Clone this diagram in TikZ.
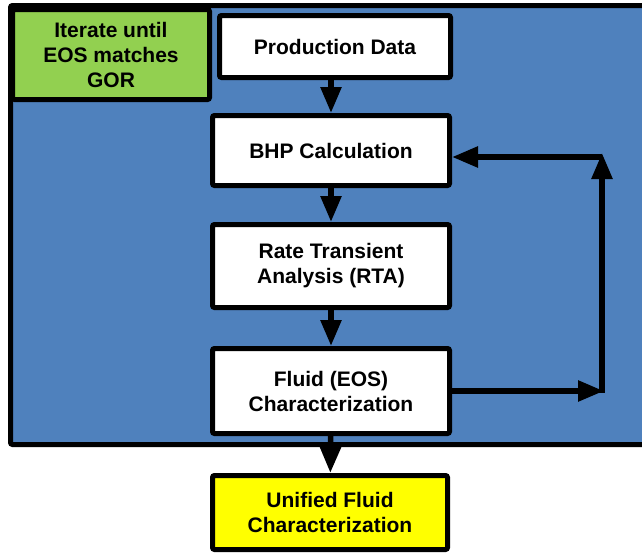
\documentclass[tikz,border=0pt]{standalone}
\usepackage{fontspec}
\setmainfont{Liberation Sans}
\usepackage{tikz}
\usetikzlibrary{arrows.meta}

\definecolor{loopblue}{HTML}{4F81BD}
\definecolor{iterGreen}{HTML}{92D050}
\definecolor{resultYellow}{HTML}{FFFF00}

\begin{document}
\begin{tikzpicture}[x=1pt, y=-1pt,
    box/.style={draw, line width=5pt, fill=white, rounded corners=2pt, align=center,
        inner sep=0pt, font=\fontsize{21}{25}\selectfont\bfseries},
    link/.style={-{Triangle[length=26pt, width=20pt]}, line width=5.5pt}]
    \useasboundingbox (0,0) rectangle (642,554);
    \clip (0,0) rectangle (642,554);
    % the iteration loop
    \draw[line width=5pt, fill=loopblue, rounded corners=2pt] (10.5,5.5) rectangle (670,444.5);
    \node[box, fill=iterGreen, minimum width=197pt, minimum height=90pt] (iter) at (111,54.5) {Iterate until\\EOS matches\\GOR};
    % the chain of steps
    \node[box, minimum width=231pt, minimum height=62pt] (prod) at (335,46.5) {Production Data};
    \node[box, minimum width=237pt, minimum height=70pt] (bhp) at (331,150.5) {BHP Calculation};
    \node[box, minimum width=237pt, minimum height=83pt] (rta) at (331,266) {Rate Transient\\Analysis (RTA)};
    \node[box, minimum width=237pt, minimum height=85pt] (eos) at (331,391) {Fluid (EOS)\\Characterization};
    \node[box, fill=resultYellow, minimum width=235pt, minimum height=74pt] (unified) at (330,512.5) {Unified Fluid\\Characterization};
    \draw[link] (bhp.north |- prod.south) -- (bhp.north);
    \draw[link] (bhp) -- (rta);
    \draw[link] (rta) -- (eos);
    \draw[link] (eos) -- (unified);
    % feedback to the BHP step
    \coordinate (turnlow) at (604,391);
    \coordinate (risebase) at (602,393);
    \coordinate (turnhigh) at (602,153);
    \coordinate (backstart) at (602,157);
    \draw[link] (eos.east) -- (turnlow);
    \draw[link] (risebase) -- (turnhigh);
    \draw[link] (backstart) -- (bhp.east |- backstart);
\end{tikzpicture}
\end{document}
